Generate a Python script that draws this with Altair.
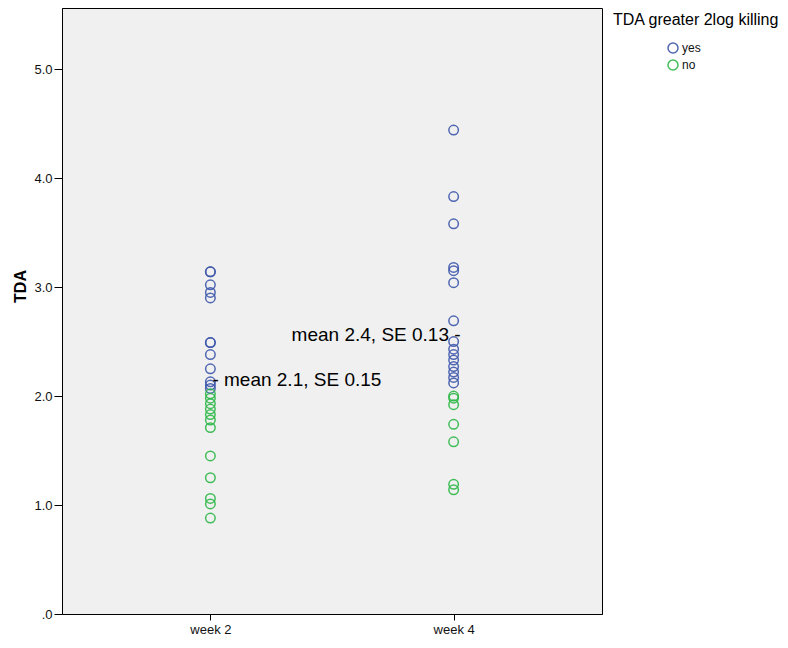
import altair as alt
import pandas as pd

weeks = ["week 2", "week 4"]
groups = ["yes", "no"]
colors = ["#3E58AC", "#2EB848"]

week2_yes = [3.14, 3.14, 3.02, 2.95, 2.90, 2.49, 2.49, 2.38, 2.25, 2.13, 2.10, 2.07]
week2_no = [2.02, 1.98, 1.93, 1.88, 1.83, 1.78, 1.71, 1.45, 1.25, 1.06, 1.01, 0.88]
week4_yes = [4.44, 3.83, 3.58, 3.18, 3.15, 3.04, 2.69, 2.50, 2.43, 2.38, 2.33,
             2.27, 2.22, 2.17, 2.12]
week4_no = [2.00, 1.98, 1.92, 1.74, 1.58, 1.19, 1.14]

ann_weeks = ["week 2", "week 4"]
ann_values = [2.15, 2.56]
ann_texts = ["-  mean 2.1, SE 0.15", "mean 2.4, SE 0.13  -"]

y_ticks = [0, 1, 2, 3, 4, 5]

rows = []
for wk, grp, vals in [("week 2", "yes", week2_yes), ("week 2", "no", week2_no),
                      ("week 4", "yes", week4_yes), ("week 4", "no", week4_no)]:
    for v in vals:
        rows.append({"week": wk, "group": grp, "TDA": v})
df = pd.DataFrame(rows)
ann = pd.DataFrame({"week": ann_weeks, "TDA": ann_values, "label": ann_texts})

FONT = "Liberation Sans"

xenc = alt.X("week:N", sort=weeks,
             scale=alt.Scale(type="point", padding=0.61, domain=weeks),
             axis=alt.Axis(title=None, labelAngle=0, labelFontSize=13, labelColor="#111",
                           tickSize=6, labelPadding=3, tickColor="black",
                           domainColor="black", grid=False))
yenc = alt.Y("TDA:Q",
             scale=alt.Scale(domain=[0, 5.56], nice=False, zero=True),
             axis=alt.Axis(values=y_ticks, title="TDA",
                           labelExpr="datum.value == 0 ? '.0' : format(datum.value, '.1f')",
                           labelFontSize=13, labelColor="#111", tickSize=8, labelPadding=2,
                           tickColor="black", domainColor="black", grid=False,
                           titleFontSize=16, titleFontWeight="bold", titleColor="black",
                           titleX=-42, titleY=278, titleAngle=270,
                           titleAlign="center", titleBaseline="middle"))

points = alt.Chart(df).mark_point(
    shape="circle", filled=False, size=90, strokeWidth=1.5, opacity=0.9
).encode(
    x=xenc, y=yenc,
    color=alt.Color("group:N", scale=alt.Scale(domain=groups, range=colors),
                    legend=alt.Legend(title="TDA greater 2log killing", orient="none",
                                      legendX=551, legendY=4, padding=0,
                                      titleFontSize=16, titleFontWeight="normal",
                                      titleColor="black", titlePadding=14,
                                      labelFontSize=12, labelColor="#111",
                                      symbolType="circle", symbolSize=100,
                                      symbolStrokeWidth=1.5, symbolOffset=54,
                                      labelOffset=3, rowPadding=1))
)

text_left = alt.Chart(ann).transform_filter(alt.datum.week == "week 2").mark_text(
    align="left", baseline="middle", fontSize=19, dx=2, color="black"
).encode(x=alt.X("week:N", sort=weeks), y="TDA:Q", text="label:N")

text_right = alt.Chart(ann).transform_filter(alt.datum.week == "week 4").mark_text(
    align="right", baseline="middle", fontSize=19, dx=7, color="black"
).encode(x=alt.X("week:N", sort=weeks), y="TDA:Q", text="label:N")

chart = alt.layer(points, text_left, text_right).properties(
    width=540, height=606,
    autosize=alt.AutoSizeParams(type="none"),
    padding={"left": 54, "top": 0, "right": 178, "bottom": 22},
    background="white",
).configure(font=FONT).configure_view(fill="#F0F0F0", stroke="black", strokeWidth=1)

chart.save("out.html", embed_options={"renderer": "svg", "actions": False})
